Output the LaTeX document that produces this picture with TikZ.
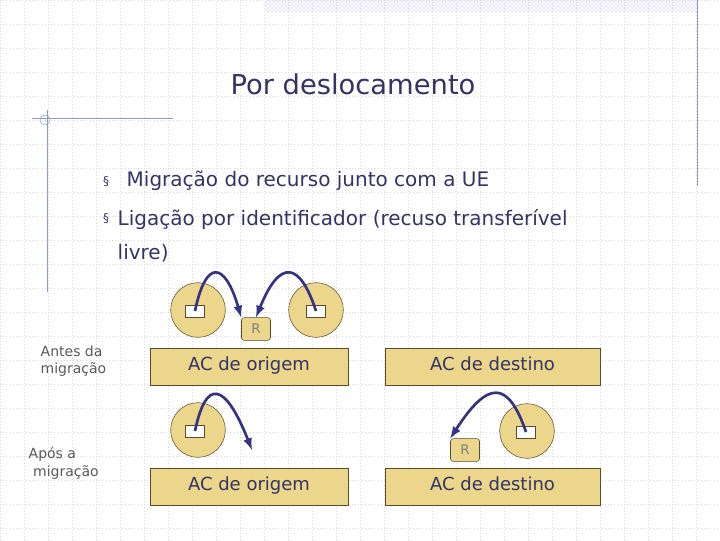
\documentclass[tikz,border=0pt]{standalone}
\usepackage{fontspec}
\setmainfont{DejaVu Sans}
\usetikzlibrary{patterns}
\definecolor{titleblue}{HTML}{333366}
\definecolor{sand}{HTML}{EBD68C}
\definecolor{sandline}{HTML}{5A4A2A}
\definecolor{arrowblue}{HTML}{33337F}
\definecolor{gridgray}{HTML}{D8D8D8}
\definecolor{frameline}{HTML}{8C9CC8}
\tikzset{
  acbox/.style={draw=sandline, fill=sand, minimum width=148.5pt, minimum height=27.75pt, inner sep=0pt, text height=1.6ex, text depth=0.4ex, font=\fontsize{13.5}{15}\selectfont, text=titleblue},
  host/.style={circle, draw=sandline, fill=sand, minimum size=41pt, inner sep=0pt},
  slot/.style={draw=sandline, fill=white, minimum width=14pt, minimum height=9pt, inner sep=0pt},
  resbox/.style={draw=sandline, fill=sand, rounded corners=2pt, minimum width=21.75pt, minimum height=17pt, inner sep=0pt, font=\fontsize{10}{11}\selectfont, text=gray},
  hop/.style={arrowblue, line width=2pt, -latex},
  side/.style={text=gray!70!black, font=\fontsize{10.5}{13}\selectfont, align=left}
}
\begin{document}
\begin{tikzpicture}[x=0.75pt, y=-0.75pt]
    \useasboundingbox (0,0) rectangle (720,540);

    % Background grid
    \draw[gridgray, dotted, step=18pt] (0,0) grid (720,540);
    \fill[pattern=crosshatch dots, pattern color=blue!40] (265,0) rectangle (697,12);
    \draw[frameline] (697,0) -- (697,186);
    \draw[frameline] (32,118) -- (173,118);
    \draw[frameline] (47,110) -- (47,292);
    \draw[frameline] (45,120) circle (5);

    % Title and bullets
    \node[text=titleblue, font=\fontsize{20.5}{24}\selectfont] (title) at (353,84) {Por deslocamento};
    \node[text=titleblue, font=\fontsize{9}{10}\selectfont] (b1) at (106,182) {§};
    \node[text=titleblue, font=\fontsize{15}{17}\selectfont, anchor=west] (t1) at (122,181) {Migração do recurso junto com a UE};
    \node[text=titleblue, font=\fontsize{9}{10}\selectfont] (b2) at (106,219) {§};
    \node[text=titleblue, font=\fontsize{15}{25}\selectfont, anchor=north west, align=left] (t2) at (113,205) {Ligação por identificador (recuso transferível\\ livre)};

    % Before migration
    \node[acbox] (orig1) at (249,366.5) {AC de origem};
    \node[acbox, minimum width=161pt] (dest1) at (492.5,366.5) {AC de destino};
    \node[host] (hostA) at (198,310) {};
    \node[host] (hostB) at (316,310) {};
    \node[slot] (slotA) at (195,311) {};
    \node[slot] (slotB) at (316,311) {};
    \node[resbox] (res1) at (256,329) {R};
    \draw[hop] (slotA.center) .. controls (206,258) and (225,262) .. (res1.north west);
    \draw[hop] (slotB.center) .. controls (300,262) and (280,258) .. (res1.north);

    % After migration
    \node[acbox] (orig2) at (249,486.5) {AC de origem};
    \node[acbox, minimum width=161pt] (dest2) at (492.5,486.5) {AC de destino};
    \node[host] (hostC) at (198,430) {};
    \node[host] (hostD) at (527,431) {};
    \node[slot] (slotC) at (195,431) {};
    \node[slot] (slotD) at (526,432) {};
    \coordinate (lost) at (252,450);
    \node[resbox] (res2) at (465,450) {R};
    \draw[hop] (slotC.center) .. controls (206,378) and (225,382) .. (lost);
    \draw[hop] (slotD.center) .. controls (508,380) and (488,380) .. (res2.north west);

    % Side labels
    \node[side, anchor=north west] (before) at (36,341) {Antes da\\ migração};
    \node[side, anchor=north west] (after) at (24,443) {Após a\\ \ migração};
\end{tikzpicture}
\end{document}
